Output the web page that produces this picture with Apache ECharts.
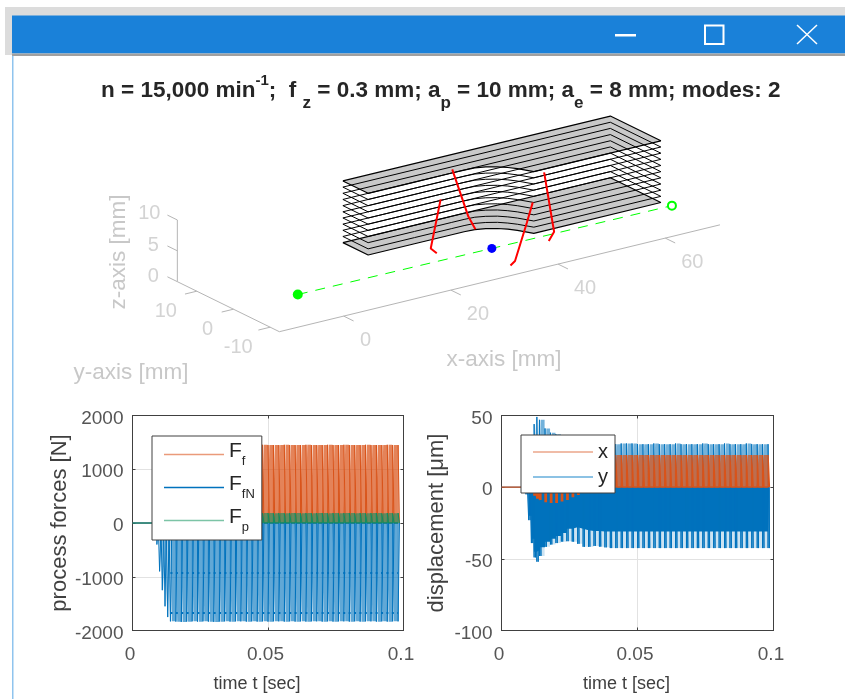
<!DOCTYPE html>
<html><head><meta charset="utf-8">
<style>html,body{margin:0;padding:0;background:#fff}#c{width:845px;height:699px}</style>
<script src="https://cdn.jsdelivr.net/npm/echarts@6/dist/echarts.min.js"></script>
</head><body><div id="c"></div>
<script>
// ---------- 3D scene data (millimetres) ----------
const workpieceX = [18.6,68.5,68.5,44.8,43.5,42.6,41.5,40,38.4,36.5,34.2,27.25,18.6,18.6];
const workpieceY = [14.88,14.88,1.12,1.12,3.7,5,6.2,7.2,7.85,8,8,8,8,14.88];
const layerZ = [0,1,2,3,4,5,6,7,8,9,10];
const pathStart = [0,0,-0.15];
const pathEnd = [69.8,0,-0.45];
const toolPoint = [36.2,0,-0.3];
const toolEdgeA = [[26.1,-0.8,10],[28.06,4.76,0],[27.6,2.44,0]];
const toolEdgeB = [[35.2,9.33,10],[37.75,8.66,2],[38.57,7.94,0]];
const toolEdgeC = [[36.85,-10.2,10],[35.55,-10.47,7],[35.4,-7.49,0],[33.7,-8.73,0]];
const toolEdgeD = [[45.9,-0.08,10],[47.73,-0.13,0],[44.7,-3.1,0]];
const xTicks3d = [0,20,40,60];
const yTicks3d = [10,0,-10];
const zTicks3d = [10,5,0];
// ---------- time plots ----------
const toothTimes = [0.009,0.010,0.011,0.012,0.013,0.014,0.016,0.018,0.020,0.022,0.024,0.026,0.028,0.030,0.032,0.034,0.036,0.038,0.040,0.042,0.044,0.046,0.048,0.050,0.052,0.054,0.056,0.058,0.060,0.062,0.064,0.066,0.068,0.070,0.072,0.074,0.076,0.078,0.080,0.082,0.084,0.086,0.088,0.090,0.092,0.094,0.096,0.098];
const forceF  = [300,700,1000,1250,1400,1450,1450,1450,1455,1450,1450,1455,1450,1450,1450,1455,1450,1450,1450,1455,1450,1450,1455,1450,1450,1450,1455,1450,1450,1450,1455,1450,1450,1450,1455,1450,1450,1455,1450,1450,1450,1455,1450,1450,1450,1455,1450,1450];
const forceFN = [-400,-900,-1250,-1550,-1750,-1830,-1835,-1840,-1835,-1830,-1835,-1830,-1835,-1840,-1835,-1830,-1835,-1830,-1830,-1835,-1830,-1835,-1830,-1835,-1830,-1830,-1835,-1830,-1835,-1830,-1835,-1830,-1830,-1835,-1830,-1835,-1830,-1830,-1835,-1830,-1835,-1830,-1830,-1835,-1830,-1835,-1830,-1830];
const forceP  = [40,90,120,150,170,185,185,180,185,180,185,180,185,185,180,185,180,185,185,180,185,180,185,185,180,185,180,185,185,180,185,180,185,185,180,185,180,185,185,180,185,180,185,185,180,185,180,185];
const dispYUp  = [3,5,25,44,49,47,41,38,37,36,35,34,33,32,31,31,30.5,30,30,30,30.5,30.5,30.5,30,30,30,30.5,30,30,30,30.5,30,30,30,30,30.5,30,30,30,30.5,30,30,30,30.5,30,30,30,30];
const dispYLow = [-5,-23,-39,-49,-52,-48,-41.6,-40,-39,-38,-37.7,-38,-39.5,-41.6,-41.6,-41,-41.5,-42,-42.5,-42.5,-42.5,-42.5,-42.5,-42.5,-42.5,-42.5,-42.5,-42.5,-42.5,-42.5,-42.5,-42.5,-42.5,-42.5,-42.5,-42.5,-42.5,-42.5,-42.5,-42.5,-42.5,-42.5,-42.5,-42.5,-42.5,-42.5,-42.5,-42.5];
const dispYBody= [-3,-20,-36,-45,-44,-42,-38,-36,-34,-32,-29,-28,-29,-30,-30.5,-30.5,-31,-31,-31,-31,-31,-31,-31,-31,-31,-31,-31,-31,-31,-31,-31,-31,-31,-31,-31,-31,-31,-31,-31,-31,-31,-31,-31,-31,-31,-31,-31,-31];
const dispXHigh= [0,1,2,3,4,5,7,9,11,13,15,16,18,19,20,21,22,22.5,22.5,22.5,22.5,22.5,22.5,22.5,22.5,22.5,22.5,22.5,22.5,22.5,22.5,22.5,22.5,22.5,22.5,22.5,22.5,22.5,22.5,22.5,22.5,22.5,22.5,22.5,22.5,22.5,22.5,22.5];
const dispXLow = [0,-1,-3,-6,-8,-9,-10.5,-11,-11,-10,-9,-7,-5.5,-4,-2.5,-1.5,-0.8,-0.3,0,0,0,0,0,0,0,0,0,0,0,0,0,0,0,0,0,0,0,0,0,0,0,0,0,0,0,0,0,0];
const forceTicks = [-2000,-1000,0,1000,2000];

// ---------- helpers ----------
const FONT = '"Liberation Sans", Arial, sans-serif';
const ORANGE='#D95319', BLUE='#0072BD', GREEN='#0E8F62';
function project(p){ // view projection of the 3D axes
  return [297.8+5.36*p[0]-3.67*p[1], 293.6-1.30*p[0]-1.80*p[1]-6.17*p[2]];
}
const outline = z => workpieceX.map((x,i)=>[x,workpieceY[i],z]);
const DW=0.0005, GAP=0.00015, END_T=0.0983;
function spikes(hi,lo){
  const out=[[0,0]];
  toothTimes.forEach((t,i)=>{
    const l=lo?lo[i]:0;
    out.push([t,0],[t,l],[t,hi[i]],[t+DW,hi[i]],[t+DW,l],[t+DW,0]);
  });
  return out;
}
function bands(v){
  const out=[];
  toothTimes.forEach((t,i)=>{
    if(i+1>=toothTimes.length) return;
    const a=t+DW, b=toothTimes[i+1]-GAP;
    out.push([a,0],[a,v[i]],[b,v[i]],[b,0]);
  });
  return out;
}
const body = v => toothTimes.flatMap((t,i)=>[[t,v[i]],[(i+1<toothTimes.length?toothTimes[i+1]:END_T),v[i]]]);
function lineS(name,data,x,y,color,z,width){
  return {name,type:'line',data,xAxisIndex:x,yAxisIndex:y,showSymbol:false,symbol:'none',animation:false,silent:true,z,
    lineStyle:{color,width:width||1},itemStyle:{color}};
}
function bandS(name,data,x,y,color,z,op){
  const s=lineS(name,data,x,y,color,z,0);
  s.lineStyle={width:0,opacity:0}; s.areaStyle={color,opacity:op}; return s;
}
function scene(name,pts,color,width,z,type){
  return {name,type:'line',xAxisIndex:0,yAxisIndex:0,data:pts.map(project),symbol:'none',showSymbol:false,silent:true,animation:false,z,
    lineStyle:{color,width,type:type||'solid'},itemStyle:{color}};
}
function plate(name,zv){
  return {name,type:'custom',xAxisIndex:0,yAxisIndex:0,silent:true,animation:false,z:1,
    data:outline(zv).map(project),clip:false,
    renderItem(params,api){
      if(params.dataIndex!==0) return;
      const points=outline(zv).map(p=>api.coord(project(p)));
      return {type:'polygon',shape:{points},style:{fill:'#c9c9c9',stroke:null}};
    }};
}
function textS(name,items){
  return {name,type:'scatter',xAxisIndex:0,yAxisIndex:0,symbolSize:1,silent:true,animation:false,z:3,
    itemStyle:{color:'rgba(0,0,0,0)'},
    data:items.map(it=>({value:project(it.p),label:{show:true,position:'inside',formatter:it.t,offset:it.o,
      color:'#c8c8c8',fontSize:20,fontFamily:FONT,align:'center',verticalAlign:'middle'}}))};
}
function dot(name,pt,size,style){
  return {name,type:'scatter',xAxisIndex:0,yAxisIndex:0,silent:true,animation:false,z:5,symbolSize:size,itemStyle:{opacity:1,...style},data:[project(pt)]};
}
const X_LOW=-12,Y_LOW=-12.5,Y_HIGH=15.3,X_HIGH=70.2;
const yLabelOffset={'10':[-31,20],'0':[-26,20],'-10':[-32,20]};
const series=[
  plate('bottom plate',0),plate('top plate',10),
  ...layerZ.map(z=>scene('layer '+z,outline(z),'#000',(z===0||z===10)?1.2:1,2)),
  scene('x axis',[[X_LOW,Y_LOW,0],[X_HIGH,Y_LOW,0]],'#b5b5b5',1,1),
  scene('y axis',[[X_LOW,Y_LOW,0],[X_LOW,Y_HIGH,0]],'#b5b5b5',1,1),
  scene('z axis',[[X_LOW,Y_HIGH,0],[X_LOW,Y_HIGH,10]],'#b5b5b5',1,1),
  ...xTicks3d.map(v=>scene('x tick',[[v,Y_LOW,0],[v,Y_LOW-2.7,0]],'#b5b5b5',1,1)),
  ...yTicks3d.map(v=>scene('y tick',[[X_LOW,v,0],[X_LOW-2.2,v,0]],'#b5b5b5',1,1)),
  ...zTicks3d.map(v=>scene('z tick',[[X_LOW,Y_HIGH,v],[X_LOW,Y_HIGH+2.7,v]],'#b5b5b5',1,1)),
  textS('x labels',xTicks3d.map(v=>({p:[v,Y_LOW,0],t:String(v),o:v===0?[22,24]:[27,24.5]}))),
  textS('y labels',yTicks3d.map(v=>({p:[X_LOW,v,0],t:String(v),o:yLabelOffset[v]}))),
  textS('z labels',zTicks3d.map(v=>({p:[X_LOW,Y_HIGH,v],t:String(v),o:v===10?[-28,-6]:[-24,-5]}))),
  scene('tool path',[pathStart,pathEnd],'#00ff00',1,3,[10,8]),
  scene('edge A',toolEdgeA,'#ff0000',2,4),scene('edge B',toolEdgeB,'#ff0000',2,4),
  scene('edge C',toolEdgeC,'#ff0000',2,4),scene('edge D',toolEdgeD,'#ff0000',2,4),
  dot('start',pathStart,10,{color:'#00ff00'}),
  dot('end',pathEnd,8,{color:'#fff',borderColor:'#00ff00',borderWidth:2}),
  dot('tool',toolPoint,9,{color:'#0000ff'}),
  // left plot
  bandS('Ff band',bands(forceF),1,1,ORANGE,2,0.72),
  lineS('Ff',spikes(forceF),1,1,ORANGE,3),
  bandS('FfN band',bands(forceFN),1,1,BLUE,4,0.62),
  Object.assign(lineS('FfN',spikes(forceFN),1,1,BLUE,5),{markLine:{silent:true,symbol:'none',animation:false,label:{show:false},
    lineStyle:{color:BLUE,width:2,type:[2,3.4]},data:[[{coord:[0.014,-925]},{coord:[0.098,-925]}],[{coord:[0.014,-1670]},{coord:[0.098,-1670]}]]}}),
  bandS('Fp band',bands(forceP),1,1,GREEN,6,0.6),
  lineS('Fp',spikes(forceP),1,1,GREEN,7),
  // right plot
  bandS('y up band',bands(dispYUp),3,3,BLUE,2,0.55),
  bandS('y low band',bands(dispYLow),3,3,BLUE,2,0.2),
  bandS('y body',body(dispYBody),3,3,BLUE,3,1),
  lineS('y',spikes(dispYUp,dispYLow),3,3,BLUE,4),
  bandS('x band',bands(dispXHigh),3,3,ORANGE,5,0.72),
  lineS('x',spikes(dispXHigh,dispXLow),3,3,ORANGE,6,1.4)
];
const axLine={show:true,onZero:false,lineStyle:{color:'#404040',width:1}};
function mainX(g,name){return {type:'value',gridIndex:g,min:0,max:0.1,interval:0.05,position:'bottom',name,nameLocation:'middle',nameGap:45,
  nameTextStyle:{color:'#404040',fontSize:18,fontFamily:FONT,padding:[0,22,0,0]},axisLine:axLine,axisTick:{inside:true,length:3,lineStyle:{color:'#404040'}},
  axisLabel:{color:'#555',fontSize:19,fontFamily:FONT,margin:15,padding:[0,5,0,0],formatter:v=>String(v)},splitLine:{show:true,lineStyle:{color:'#e2e2e2',width:1}}};}
function topX(g){return {type:'value',gridIndex:g,min:0,max:0.1,interval:0.05,position:'top',axisLine:axLine,axisTick:{inside:true,length:3,lineStyle:{color:'#404040'}},axisLabel:{show:false},splitLine:{show:false}};}
function mainY(g,min,max,iv,name,gap){return {type:'value',gridIndex:g,min,max,interval:iv,position:'left',name,nameLocation:'middle',nameGap:gap,
  nameTextStyle:{color:'#404040',fontSize:22,fontFamily:FONT},axisLine:axLine,axisTick:{inside:true,length:3,lineStyle:{color:'#404040'}},
  axisLabel:{color:'#555',fontSize:19,fontFamily:FONT,margin:9,verticalAlign:'top',lineHeight:6,formatter:v=>String(v)},splitLine:{show:true,lineStyle:{color:'#e2e2e2',width:1}}};}
function rightY(g,min,max,iv){return {type:'value',gridIndex:g,min,max,interval:iv,position:'right',axisLine:axLine,axisTick:{inside:true,length:3,lineStyle:{color:'#404040'}},axisLabel:{show:false},splitLine:{show:false}};}
const legendBase={orient:'vertical',backgroundColor:'#fff',borderColor:'#404040',borderWidth:1,icon:'rect',itemWidth:60,itemHeight:1.6,align:'left',z:20,selectedMode:false};
const legendRich={a:{fontSize:21,color:'#262626',fontFamily:FONT,verticalAlign:'top',lineHeight:27},b:{fontSize:13,color:'#262626',fontFamily:FONT,verticalAlign:'bottom',lineHeight:27}};
const axisNameStyle={fill:'#c8c8c8',font:'22.5px '+FONT,align:'center',verticalAlign:'middle'};
const option={
  animation:false,backgroundColor:'#fff',
  title:{left:96,top:65,text:'{m|n = 15,000 min}{sup|-1}{m|;  f }{sub|z}{m| = 0.3 mm; a}{sub|p}{m| = 10 mm; a}{sub|e}{m| = 8 mm; modes: 2}',
    textStyle:{rich:{
      m:{fontSize:22.5,fontWeight:'bold',color:'#262626',fontFamily:FONT,verticalAlign:'middle',lineHeight:42},
      sup:{fontSize:15,fontWeight:'bold',color:'#262626',fontFamily:FONT,verticalAlign:'top',lineHeight:42,padding:[3,0,0,0]},
      sub:{fontSize:17,fontWeight:'bold',color:'#262626',fontFamily:FONT,verticalAlign:'bottom',lineHeight:42}
    }}},
  grid:[
    {left:0,top:0,width:845,height:699,show:false},
    {left:132.5,top:415.5,width:271,height:215,show:false},
    {left:501.5,top:415.5,width:272,height:215,show:false}
  ],
  xAxis:[
    {type:'value',gridIndex:0,min:0,max:845,show:false},
    mainX(1,'time t [sec]'),topX(1),mainX(2,'time t [sec]'),topX(2)
  ],
  yAxis:[
    {type:'value',gridIndex:0,min:0,max:699,inverse:true,show:false},
    mainY(1,forceTicks[0],forceTicks[4],1000,'process forces [N]',62),rightY(1,-2000,2000,1000),
    mainY(2,-100,50,50,'displacement [μm]',54),rightY(2,-100,50,50)
  ],
  legend:[
    {...legendBase,left:152,top:436,padding:[5,7,6,12],itemGap:6,
      data:[{name:'Ff',itemStyle:{color:'#EA9A7A'}},{name:'FfN',itemStyle:{color:BLUE}},{name:'Fp',itemStyle:{color:'#7CC4A6'}}],
      formatter:n=>n==='Ff'?'{a|F}{b|f}':n==='FfN'?'{a|F}{b|fN}':'{a|F}{b|p}',
      textStyle:{rich:legendRich}},
    {...legendBase,left:521,top:435,padding:[7,7,6,12],itemGap:5,
      data:[{name:'x',itemStyle:{color:'#EBA68A'}},{name:'y',itemStyle:{color:'#66AEDB'}}],
      textStyle:{fontSize:20,color:'#262626',fontFamily:FONT,lineHeight:20}}
  ],
  graphic:[
    {type:'rect',z:-5,shape:{x:5,y:7,width:840,height:9},style:{fill:'#dcdcdc'}},
    {type:'rect',z:-5,shape:{x:5,y:7,width:7,height:48},style:{fill:'#dcdcdc'}},
    {type:'rect',z:-4,shape:{x:12,y:15.5,width:833,height:38},style:{fill:'#1A81D9'}},
    {type:'rect',z:-4,shape:{x:12,y:53.5,width:833,height:2.5},style:{fill:'#a0a0a0'}},
    {type:'rect',z:-4,shape:{x:12,y:56,width:1.5,height:643},style:{fill:'#8fc4ee'}},
    {type:'rect',z:10,shape:{x:615,y:34,width:21,height:2.5},style:{fill:'#fff'}},
    {type:'rect',z:10,shape:{x:705,y:25.5,width:18.5,height:18.5},style:{fill:'none',stroke:'#fff',lineWidth:2}},
    {type:'line',z:10,shape:{x1:797,y1:25,x2:817,y2:44},style:{stroke:'#fff',lineWidth:1.5}},
    {type:'line',z:10,shape:{x1:817,y1:25,x2:797,y2:44},style:{stroke:'#fff',lineWidth:1.5}},
    {type:'text',z:10,x:504,y:360,style:{text:'x-axis [mm]',...axisNameStyle}},
    {type:'text',z:10,x:131,y:373,style:{text:'y-axis [mm]',...axisNameStyle}},
    {type:'text',z:10,x:119,y:252,rotation:Math.PI/2,style:{text:'z-axis [mm]',...axisNameStyle}}
  ],
  series
};
echarts.init(document.getElementById('c'),null,{renderer:'canvas'}).setOption(option);
</script></body></html>
